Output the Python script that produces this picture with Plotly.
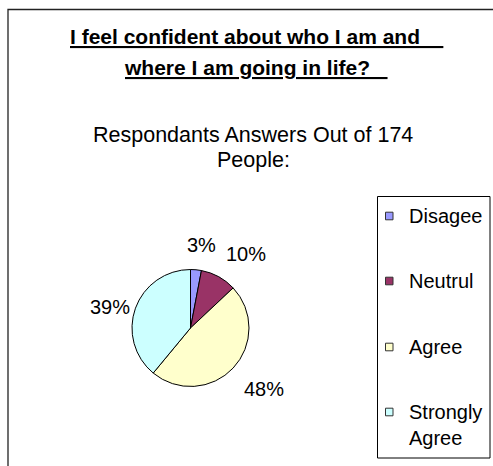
import math
import plotly.graph_objects as go

# Survey responses (percent of 174 respondents)
categories = ["Disagee", "Neutrul", "Agree", "Strongly Agree"]
percentages = [3, 10, 48, 39]
slice_colors = ["#9999FF", "#993366", "#FFFFCC", "#CCFFFF"]

title_lines = ["I feel confident about who I am and", "where I am going in life?"]
subtitle_lines = ["Respondants Answers Out of 174", "People:"]

W, H = 493, 466
FONT = "Arial, 'Liberation Sans', sans-serif"


def px(x):
    return x / W


def py(y):
    return 1 - y / H


fig = go.Figure()

# pie placed in a square domain: centre (190.5, 328), radius 58.5 px
cx, cy, r = 190.5, 328, 58.5
fig.add_trace(go.Pie(
    labels=categories,
    values=percentages,
    sort=False,
    direction="clockwise",
    rotation=0,
    marker=dict(colors=slice_colors, line=dict(color="black", width=1)),
    textinfo="none",
    showlegend=False,
    domain=dict(x=[px(cx - r), px(cx + r)], y=[py(cy + r), py(cy - r)]),
    hoverinfo="label+percent",
))

shapes = []
annotations = []

# percentage labels just outside each slice, at the slice's mid angle
total = sum(percentages)
start = 0.0
for v in percentages:
    mid = 2 * math.pi * (start + v / 2) / total
    start += v
    ux, uy = math.sin(mid), -math.cos(mid)          # screen coords, y down
    xa = "center" if abs(ux) < 0.3 else ("left" if ux > 0 else "right")
    ya = "middle" if abs(uy) < 0.4 else ("bottom" if uy < 0 else "top")
    label_r = 62 if ya == "middle" else 70
    annotations.append(dict(
        xref="paper", yref="paper",
        x=px(cx + label_r * ux), y=py(cy + label_r * uy),
        xanchor=xa, yanchor=ya, showarrow=False,
        xshift=4 if xa == "center" else 0,
        text=f"{v}%", font=dict(family=FONT, size=20, color="black"),
    ))

# outer chart frame (right and bottom edges run off the page)
shapes.append(dict(type="rect", xref="paper", yref="paper",
                   x0=px(8), x1=px(520), y0=py(9.5), y1=py(490),
                   line=dict(color="#222222", width=1.3), fillcolor="rgba(0,0,0,0)"))

# underlined bold title
for line, yc, pad in zip(title_lines, [37, 67], [4, 3]):
    annotations.append(dict(
        xref="paper", yref="paper", x=px(256), y=py(yc),
        xanchor="center", yanchor="middle", showarrow=False,
        text=line + "&nbsp;" * pad,
        font=dict(family=FONT, size=21, color="black", weight="bold", lineposition="under"),
    ))

# subtitle
for line, yc in zip(subtitle_lines, [135, 160]):
    annotations.append(dict(
        xref="paper", yref="paper", x=px(253), y=py(yc),
        xanchor="center", yanchor="middle", showarrow=False,
        text=line, font=dict(family=FONT, size=21.5, color="black"),
    ))

# legend box
shapes.append(dict(type="rect", xref="paper", yref="paper",
                   x0=px(377.5), x1=px(490), y0=py(196.5), y1=py(458),
                   line=dict(color="black", width=1), fillcolor="white"))

item_y = [216, 281, 347, 412]
for name, color, yc in zip(categories, slice_colors, item_y):
    shapes.append(dict(type="rect", xref="paper", yref="paper",
                       x0=px(385.5), x1=px(393), y0=py(yc + 3.8), y1=py(yc - 3.8),
                       line=dict(color="#333333", width=1), fillcolor=color))
    words = name.split(" ")
    text = "<br>".join(words)
    nlines = len(words)
    annotations.append(dict(
        xref="paper", yref="paper", x=px(407), y=py(yc + 13 * (nlines - 1)),
        xanchor="left", yanchor="middle", align="left", showarrow=False,
        text=text, font=dict(family=FONT, size=20, color="black"),
    ))

fig.update_layout(
    width=W, height=H,
    margin=dict(l=0, r=0, t=0, b=0),
    paper_bgcolor="white",
    plot_bgcolor="white",
    shapes=shapes,
    annotations=annotations,
)

fig.write_html("out.html")
